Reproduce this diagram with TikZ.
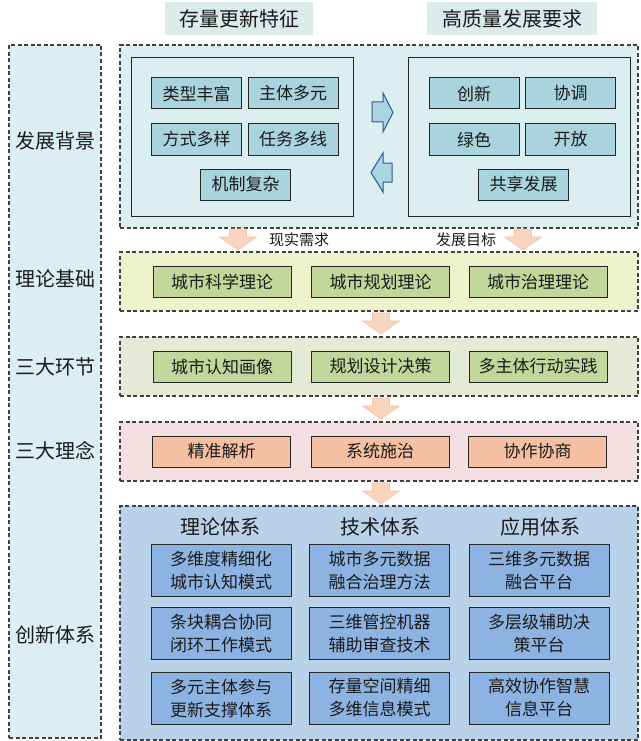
\documentclass[tikz,border=0pt]{standalone}
\usepackage{fontspec}
\newfontfamily\cjk{Noto Sans CJK SC}
\setmainfont{Noto Sans CJK SC}
\definecolor{dashc}{HTML}{404040}
\definecolor{hdrfill}{HTML}{DBEBEA}
\definecolor{lcfill}{HTML}{DBEEF2}
\definecolor{bafill}{HTML}{DBEEF0}
\definecolor{cyanbox}{HTML}{A9D4DE}
\definecolor{barrowf}{HTML}{A9D6E0}
\definecolor{barrowd}{HTML}{2E5597}
\definecolor{bbfill}{HTML}{EEF2CC}
\definecolor{bbin}{HTML}{C4D79B}
\definecolor{bcfill}{HTML}{E4EAD6}
\definecolor{bcin}{HTML}{C3D69B}
\definecolor{bdfill}{HTML}{F4E0E2}
\definecolor{bdin}{HTML}{F5BFA2}
\definecolor{befill}{HTML}{B9D1E9}
\definecolor{bein}{HTML}{8DB3E2}
\definecolor{peach}{HTML}{F9D5BF}
\definecolor{peachb}{HTML}{F4C2A5}
\definecolor{txt}{HTML}{1A1A1A}
\tikzset{
  dbox/.style={draw=dashc, dash pattern=on 4pt off 2.5pt, line width=1.1pt, inner sep=0pt},
  sbox/.style={draw=black!85, line width=1pt, inner sep=0pt, text=txt, align=center,
    font=\cjk\fontsize{17}{23}\selectfont},
  lbl/.style={inner sep=0pt, text=txt, font=\cjk\fontsize{20}{24}\selectfont},
  small/.style={inner sep=0pt, text=txt, font=\cjk\fontsize{15}{18}\selectfont},
  darrow/.pic={\draw[fill=peach, draw=peachb, line width=0.6pt]
     (-8.5,0) -- (8.5,0) -- (8.5,8) -- (18.5,8) -- (0,21) -- (-18.5,8) -- (-8.5,8) -- cycle;},
  barrow/.style={fill=barrowf, draw=barrowd, line width=1pt, line join=miter}
}
\begin{document}
\begin{tikzpicture}[x=1pt,y=-1pt]
\useasboundingbox (0,0) rectangle (640,741);
% headers
\node[lbl, fill=hdrfill, minimum width=148pt, minimum height=33pt] (h1) at (239,18.5) {存量更新特征};
\node[lbl, fill=hdrfill, minimum width=170pt, minimum height=33pt] (h2) at (512,18.5) {高质量发展要求};
% left column
\node[dbox, fill=lcfill, minimum width=92pt, minimum height=693pt] (lc) at (55,391.5) {};
\node[lbl] (l1) at (55,141) {发展背景};
\node[lbl] (l2) at (55,279) {理论基础};
\node[lbl] (l3) at (55,366.5) {三大环节};
\node[lbl] (l4) at (55,451) {三大理念};
\node[lbl] (l5) at (55,635) {创新体系};
% box 1
\node[dbox, fill=bafill, minimum width=518pt, minimum height=183pt] (b1) at (379,136.5) {};
\node[draw=black!85, line width=1pt, fill=bafill, minimum width=222pt, minimum height=158pt, inner sep=0pt] (b1l) at (242,137) {};
\node[draw=black!85, line width=1pt, fill=bafill, minimum width=222pt, minimum height=158pt, inner sep=0pt] (b1r) at (519,137) {};
\tikzset{cb/.style={sbox, fill=cyanbox, minimum width=90pt, minimum height=31pt}}
\node[cb] (c1) at (196.5,93.5) {类型丰富};
\node[cb] (c2) at (293,93.5) {主体多元};
\node[cb] (c3) at (196.5,139.5) {方式多样};
\node[cb] (c4) at (293,139.5) {任务多线};
\node[cb] (c5) at (245.5,184.5) {机制复杂};
\node[cb] (d1) at (474,93.5) {创新};
\node[cb] (d2) at (570.5,93.5) {协调};
\node[cb] (d3) at (474,139.5) {绿色};
\node[cb] (d4) at (570.5,139.5) {开放};
\node[cb] (d5) at (523.5,184.5) {共享发展};
\draw[barrow] (372,102) -- (383,102) -- (383,93) -- (393,112.5) -- (383,132) -- (383,122) -- (372,122) -- cycle;
\draw[barrow] (392,163) -- (383,163) -- (383,153) -- (371,172.5) -- (383,192) -- (383,182) -- (392,182) -- cycle;
% labels between
\node[small] (t1) at (299,240) {现实需求};
\node[small] (t2) at (466,240) {发展目标};
% box 2
\node[dbox, fill=bbfill, minimum width=518pt, minimum height=59pt] (b2) at (379,281.5) {};
\tikzset{gb/.style={sbox, fill=bbin, minimum width=138pt, minimum height=31pt}}
\node[gb] (e1) at (222,281.5) {城市科学理论};
\node[gb] (e2) at (380.5,281.5) {城市规划理论};
\node[gb] (e3) at (538,281.5) {城市治理理论};
% box 3
\node[dbox, fill=bcfill, minimum width=518pt, minimum height=59pt] (b3) at (379,366.5) {};
\tikzset{gb2/.style={sbox, fill=bcin, minimum width=138pt, minimum height=31pt}}
\node[gb2] (f1) at (222,366.5) {城市认知画像};
\node[gb2] (f2) at (380.5,366.5) {规划设计决策};
\node[gb2] (f3) at (538,366.5) {多主体行动实践};
% box 4
\node[dbox, fill=bdfill, minimum width=518pt, minimum height=59pt] (b4) at (379,451.5) {};
\tikzset{pb/.style={sbox, fill=bdin, minimum width=138pt, minimum height=31pt}}
\node[pb] (g1) at (221.5,451.5) {精准解析};
\node[pb] (g2) at (380,451.5) {系统施治};
\node[pb] (g3) at (537.5,451.5) {协作协商};
% box 5
\node[dbox, fill=befill, minimum width=518pt, minimum height=234pt] (b5) at (379,623) {};
\node[lbl] (k1) at (220,527) {理论体系};
\node[lbl] (k2) at (380,527) {技术体系};
\node[lbl] (k3) at (540,527) {应用体系};
\tikzset{bb/.style={sbox, fill=bein, minimum width=140pt, minimum height=52pt}}
\node[bb] (m11) at (221,570.5) {多维度精细化\\城市认知模式};
\node[bb] (m12) at (379.5,570.5) {城市多元数据\\融合治理方法};
\node[bb] (m13) at (539,570.5) {三维多元数据\\融合平台};
\node[bb] (m21) at (221,633.5) {条块耦合协同\\闭环工作模式};
\node[bb] (m22) at (379.5,633.5) {三维管控机器\\辅助审查技术};
\node[bb] (m23) at (539,633.5) {多层级辅助决\\策平台};
\node[bb] (m31) at (221,698) {多元主体参与\\更新支撑体系};
\node[bb] (m32) at (379.5,698) {存量空间精细\\多维信息模式};
\node[bb] (m33) at (539,698) {高效协作智慧\\信息平台};
% peach arrows
\coordinate (a1) at (238,229);
\coordinate (a2) at (523,229);
\coordinate (a3) at (381,313);
\coordinate (a4) at (381,398);
\coordinate (a5) at (381,483);
\pic at (a1) {darrow};
\pic at (a2) {darrow};
\pic at (a3) {darrow};
\pic at (a4) {darrow};
\pic at (a5) {darrow};
\end{tikzpicture}
\end{document}
